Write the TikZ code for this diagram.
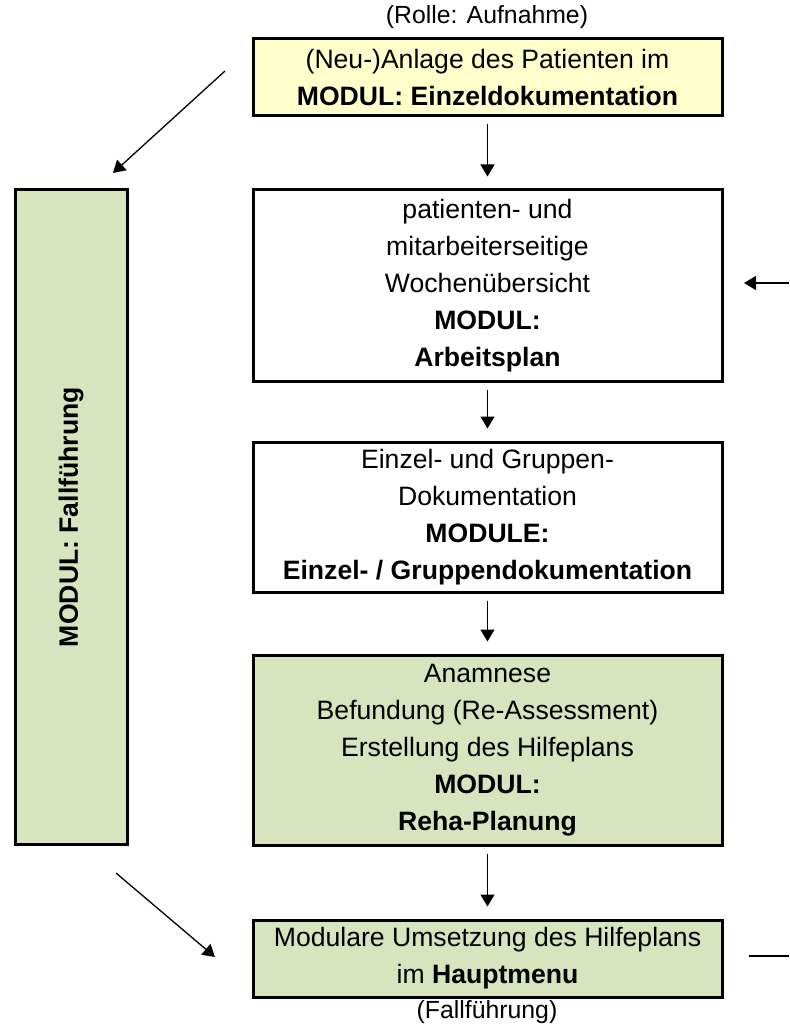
\documentclass[tikz,border=0pt]{standalone}
\usepackage{fontspec}
\setmainfont{Liberation Sans}
\usetikzlibrary{arrows.meta}
\definecolor{AufnahmeGelb}{HTML}{FFFFCC}
\definecolor{PlanGruen}{HTML}{D7E4BD}
\definecolor{RahmenLinie}{HTML}{000000}

\begin{document}
\begin{tikzpicture}[x=0.5pt,y=-0.5pt,
    box/.style={draw=RahmenLinie,line width=1.5pt,minimum width=234.5pt,inner sep=0pt,
      align=center,font=\fontsize{13.3}{18.5}\selectfont},
    flow/.style={-{Triangle[length=6pt,width=7pt]},line width=0.65pt},
    stepflow/.style={flow,shorten <=3.5pt,shorten >=6pt},
    caption/.style={font=\fontsize{12.4}{15}\selectfont}]
    \useasboundingbox (0,0) rectangle (789,1027);

    \node[caption] (rolle) at (487,17) {(Rolle: Aufnahme)};
    \node[box,fill=AufnahmeGelb,minimum height=38.5pt] (anlage) at (487.5,77.5)
      {(Neu-)Anlage des Patienten im\\\textbf{MODUL: Einzeldokumentation}};
    \node[box,fill=white,minimum height=95.5pt] (wochen) at (487.5,285.5)
      {patienten- und\\mitarbeiterseitige\\Wochenübersicht\\\textbf{MODUL:}\\\textbf{Arbeitsplan}};
    \node[box,fill=white,minimum height=75pt] (doku) at (487.5,517)
      {Einzel- und Gruppen-\\Dokumentation\\\textbf{MODULE:}\\\textbf{Einzel- / Gruppendokumentation}};
    \node[box,fill=PlanGruen,minimum height=95pt] (reha) at (487.5,750)
      {Anamnese\\Befundung (Re-Assessment)\\Erstellung des Hilfeplans\\\textbf{MODUL:}\\\textbf{Reha-Planung}};
    \node[box,fill=PlanGruen,minimum height=38.5pt] (haupt) at (487.5,958.5)
      {Modulare Umsetzung des Hilfeplans\\im \textbf{Hauptmenu}};
    \node[caption] (fall) at (487,1012) {(Fallführung)};

    % linke Leiste
    \node[box,fill=PlanGruen,rotate=90,minimum width=327pt,minimum height=56pt] (fallfuehrung)
      at (71,517) {\textbf{MODUL: Fallführung}};

    \draw[stepflow] (anlage) -- (wochen);
    \draw[stepflow] (wochen) -- (doku);
    \draw[stepflow] (doku) -- (reha);
    \draw[stepflow] (reha) -- (haupt);

    % Pfeile ohne Ziel im Bild
    \coordinate (obenlinks) at (225,71);
    \coordinate (obenlinks spitze) at (113,173);
    \coordinate (untenlinks) at (116,873);
    \coordinate (untenlinks spitze) at (215,957);
    \coordinate (rechts) at (789,283);
    \coordinate (rechts spitze) at (744,283);
    \coordinate (rechtsunten) at (749,956);
    \coordinate (rechtsunten ende) at (789,956);
    \draw[flow] (obenlinks) -- (obenlinks spitze);
    \draw[flow] (untenlinks) -- (untenlinks spitze);
    \draw[flow] (rechts) -- (rechts spitze);
    \draw[line width=0.65pt] (rechtsunten) -- (rechtsunten ende);
\end{tikzpicture}
\end{document}
